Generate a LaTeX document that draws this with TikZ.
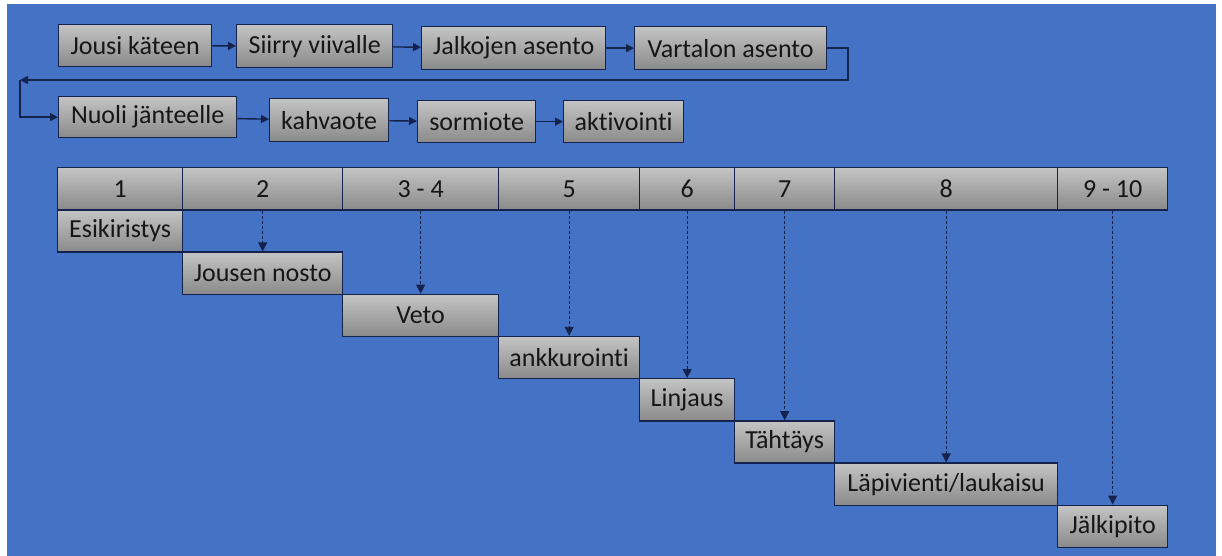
\documentclass[tikz,border=0pt]{standalone}
\usepackage{fontspec}
\setmainfont{Carlito}[Ligatures={NoCommon,NoRare,NoDiscretionary}]
\usetikzlibrary{arrows.meta}

\definecolor{bgblue}{RGB}{68,114,196}
\definecolor{boxtop}{RGB}{196,196,196}
\definecolor{boxbot}{RGB}{138,138,138}
\definecolor{navy}{RGB}{20,34,76}
\definecolor{txt}{RGB}{22,22,22}

\tikzset{
  box/.style={draw=navy, line width=1.3pt, top color=boxtop, bottom color=boxbot,
    inner sep=0pt, anchor=north west, text=txt,
    font=\fontsize{26}{30}\selectfont},
  flow/.style={draw=navy, line width=1.4pt, -{Triangle[length=8pt,width=8pt]}},
  drop/.style={draw=navy, line width=1.3pt, dash pattern=on 3pt off 2pt,
    -{Triangle[length=9pt,width=9pt]}},
}

\begin{document}
\begin{tikzpicture}[x=1pt,y=-1pt]
  \useasboundingbox (0,0) rectangle (1222,556);
  \fill[white] (0,0) rectangle (1222,556);
  \fill[bgblue] (7,4) rectangle (1216,556);

  % preparation sequence, first row
  \node[box, minimum width=153, minimum height=42] (jousi)  at (58,24)  {Jousi käteen};
  \node[box, minimum width=156, minimum height=43] (siirry) at (236,24) {Siirry viivalle};
  \node[box, minimum width=184, minimum height=43] (jalat)  at (421,26) {Jalkojen asento};
  \node[box, minimum width=192, minimum height=43] (runko)  at (634,26) {Vartalon asento};

  % preparation sequence, second row
  \node[box, minimum width=178, minimum height=41] (nuoli)  at (58,96)  {Nuoli jänteelle};
  \node[box, minimum width=119, minimum height=43] (kahva)  at (269,98) {kahvaote};
  \node[box, minimum width=118, minimum height=42] (sormi)  at (417,100) {sormiote};
  \node[box, minimum width=120, minimum height=42] (aktiv)  at (563,100) {aktivointi};

  \draw[flow] (jousi) -- (siirry);
  \draw[flow] (siirry) -- (jalat);
  \draw[flow] (jalat) -- (runko);

  \coordinate (turnR) at (848,80);
  \coordinate (turnL) at (20,80);
  \draw[flow] (runko.east) -| (turnR) -- (turnL);
  \draw[flow] (turnL) |- (nuoli.west);

  \draw[flow] (nuoli) -- (kahva);
  \draw[flow] (kahva) -- (sormi);
  \draw[flow] (sormi) -- (aktiv);

  % phase header
  \node[box, minimum width=125, minimum height=42.2] (h1)  at (57,167)   {1};
  \node[box, minimum width=160, minimum height=42.2] (h2)  at (182,167)  {2};
  \node[box, minimum width=156, minimum height=42.2] (h3)  at (342,167)  {3 - 4};
  \node[box, minimum width=141, minimum height=42.2] (h5)  at (498,167)  {5};
  \node[box, minimum width=95,  minimum height=42.2] (h6)  at (639,167)  {6};
  \node[box, minimum width=100, minimum height=42.2] (h7)  at (734,167)  {7};
  \node[box, minimum width=223, minimum height=42.2] (h8)  at (834,167)  {8};
  \node[box, minimum width=110, minimum height=42.2] (h9)  at (1057,167) {9 - 10};

  % phase steps
  \node[box, minimum width=125, minimum height=42.2] (p1) at (57,209.2)   {Esikiristys};
  \node[box, minimum width=160, minimum height=42.2] (p2) at (182,251.4)  {Jousen nosto};
  \node[box, minimum width=156, minimum height=42.2] (p3) at (342,293.6)  {Veto};
  \node[box, minimum width=141, minimum height=42.2] (p5) at (498,335.8)  {ankkurointi};
  \node[box, minimum width=95,  minimum height=42.2] (p6) at (639,378)    {Linjaus};
  \node[box, minimum width=100, minimum height=42.2] (p7) at (734,420.2)  {Tähtäys};
  \node[box, minimum width=223, minimum height=42.2] (p8) at (834,462.4)  {Läpivienti/laukaisu};
  \node[box, minimum width=110, minimum height=42.2] (p9) at (1057,504.6) {Jälkipito};

  \foreach \h/\p in {h2/p2, h3/p3, h5/p5, h6/p6, h7/p7, h8/p8, h9/p9}
    \draw[drop] (\h.south) -- (\p.north);
\end{tikzpicture}
\end{document}
